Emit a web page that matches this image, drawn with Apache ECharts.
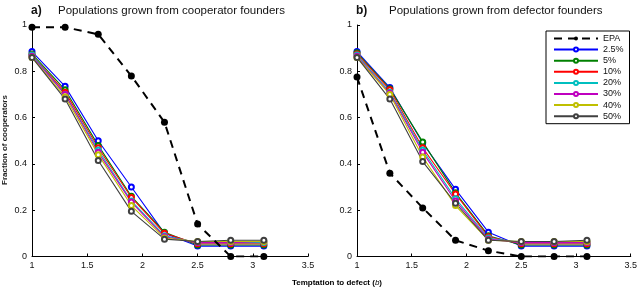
<!DOCTYPE html>
<html><head><meta charset="utf-8">
<script src="https://cdn.jsdelivr.net/npm/echarts@6/dist/echarts.min.js"></script>
<style>html,body{margin:0;padding:0;background:#fff}#c{width:640px;height:289px}</style>
</head><body><div id="c"></div>
<script>
var xValues = [1, 1.3, 1.6, 1.9, 2.2, 2.5, 2.8, 3.1];
var seriesNames = ['EPA', '2.5%', '5%', '10%', '20%', '30%', '40%', '50%'];
var xTicks = [1, 1.5, 2, 2.5, 3, 3.5];
var yTicks = [0, 0.2, 0.4, 0.6, 0.8, 1];

// Panel a) cooperator founders
var coopEPA = [0.99, 0.99, 0.96, 0.78, 0.58, 0.14, 0, 0];
var coop2_5 = [0.885, 0.735, 0.50, 0.30, 0.10, 0.045, 0.045, 0.045];
var coop5   = [0.875, 0.72, 0.48, 0.26, 0.105, 0.05, 0.05, 0.05];
var coop10  = [0.87, 0.71, 0.47, 0.255, 0.10, 0.055, 0.055, 0.055];
var coop20  = [0.87, 0.70, 0.46, 0.24, 0.09, 0.06, 0.06, 0.06];
var coop30  = [0.865, 0.70, 0.45, 0.235, 0.085, 0.06, 0.06, 0.065];
var coop40  = [0.86, 0.69, 0.44, 0.22, 0.08, 0.065, 0.065, 0.065];
var coop50  = [0.86, 0.68, 0.415, 0.195, 0.075, 0.065, 0.07, 0.07];

// Panel b) defector founders
var defEPA = [0.775, 0.36, 0.21, 0.07, 0.025, 0, 0, 0];
var def2_5 = [0.885, 0.73, 0.49, 0.29, 0.105, 0.045, 0.045, 0.045];
var def5   = [0.88, 0.725, 0.495, 0.275, 0.09, 0.05, 0.05, 0.05];
var def10  = [0.875, 0.72, 0.47, 0.27, 0.085, 0.055, 0.055, 0.055];
var def20  = [0.87, 0.71, 0.46, 0.25, 0.08, 0.06, 0.06, 0.06];
var def30  = [0.865, 0.705, 0.45, 0.24, 0.075, 0.06, 0.06, 0.06];
var def40  = [0.86, 0.70, 0.43, 0.22, 0.07, 0.065, 0.065, 0.065];
var def50  = [0.86, 0.68, 0.41, 0.23, 0.07, 0.065, 0.065, 0.07];

var coopData = [coopEPA, coop2_5, coop5, coop10, coop20, coop30, coop40, coop50];
var defData  = [defEPA, def2_5, def5, def10, def20, def30, def40, def50];
var colors = ['#000000', '#0000ff', '#008000', '#ff0000', '#00bfbf', '#bf00bf', '#bfbf00', '#404040'];

var FONT = 'Liberation Sans, Arial, sans-serif';

function pairs(ys) { return xValues.map(function (x, i) { return [x, ys[i]]; }); }

function makeSeries(data, idx) {
  return data.map(function (ys, i) {
    if (i === 0) {
      return {
        name: seriesNames[i], type: 'line', xAxisIndex: idx, yAxisIndex: idx,
        data: pairs(ys), symbol: 'circle', symbolSize: 7,
        itemStyle: { color: '#000' },
        lineStyle: { color: '#000', width: 2, type: [8, 6] },
        z: 3, animation: false
      };
    }
    return {
      name: seriesNames[i], type: 'line', xAxisIndex: idx, yAxisIndex: idx,
      data: pairs(ys), symbol: 'emptyCircle', symbolSize: 5,
      itemStyle: { color: colors[i], borderWidth: 1.1 },
      lineStyle: { color: colors[i], width: 1.1 },
      z: 2, animation: false
    };
  });
}

function xAxis(gi) {
  return {
    type: 'value', gridIndex: gi, min: 1, max: 3.5, interval: 0.5,
    axisLine: { lineStyle: { color: '#000', width: 1 } },
    axisTick: { inside: true, length: 3, lineStyle: { color: '#000' } },
    axisLabel: { color: '#111', fontSize: 9, fontFamily: FONT, margin: 5 },
    splitLine: { show: false }
  };
}
function yAxis(gi) {
  return {
    type: 'value', gridIndex: gi, min: 0, max: 1, interval: 0.2,
    axisLine: { show: true, lineStyle: { color: '#000', width: 1 } },
    axisTick: { show: true, inside: true, length: 3, lineStyle: { color: '#000' } },
    axisLabel: { color: '#111', fontSize: 9, fontFamily: FONT, margin: 5 },
    splitLine: { show: false }
  };
}

var chart = echarts.init(document.getElementById('c'), null, { renderer: 'canvas' });
chart.setOption({
  animation: false,
  backgroundColor: '#fff',
  textStyle: { fontFamily: FONT },
  title: [
    { text: 'a)', left: 26, top: 0, textStyle: { fontSize: 12, fontWeight: 'bold', color: '#111', fontFamily: FONT } },
    { text: 'Populations grown from cooperator founders', left: 53, top: 0, textStyle: { fontSize: 11.5, fontWeight: 'normal', color: '#111', fontFamily: FONT } },
    { text: 'b)', left: 351, top: 0, textStyle: { fontSize: 12, fontWeight: 'bold', color: '#111', fontFamily: FONT } },
    { text: 'Populations grown from defector founders', left: 384, top: 0, textStyle: { fontSize: 11.5, fontWeight: 'normal', color: '#111', fontFamily: FONT } }
  ],
  grid: [
    { left: 32, right: 332, top: 25, bottom: 32.5 },
    { left: 357, right: 7, top: 25, bottom: 32.5 }
  ],
  xAxis: [xAxis(0), xAxis(1)],
  yAxis: [yAxis(0), yAxis(1)],
  legend: {
    data: seriesNames, orient: 'vertical', left: 546, top: 31,
    padding: [3, 6, 3, 7], itemWidth: 44, itemHeight: 5, itemGap: 2.1,
    borderColor: '#000', borderWidth: 1, backgroundColor: '#fff',
    textStyle: { fontSize: 9, color: '#111', fontFamily: FONT },
    selectedMode: false
  },
  graphic: [
    { type: 'text', x: 4.5, y: 140, rotation: Math.PI / 2,
      style: { text: 'Fraction of cooperators', fontSize: 8, fontWeight: 'bold', fontFamily: FONT, fill: '#222', textAlign: 'center', textVerticalAlign: 'middle' } },
    { type: 'text', x: 337, y: 283,
      style: { text: '{n|Temptation to defect (}{i|b}{n|)}', textAlign: 'center', textVerticalAlign: 'middle',
        rich: { n: { fontSize: 8, fontWeight: 'bold', fontFamily: FONT, color: '#222' }, i: { fontSize: 8, fontFamily: FONT, fontStyle: 'italic', color: '#222' } } } }
  ],
  series: makeSeries(coopData, 0).concat(makeSeries(defData, 1))
});
</script></body></html>
